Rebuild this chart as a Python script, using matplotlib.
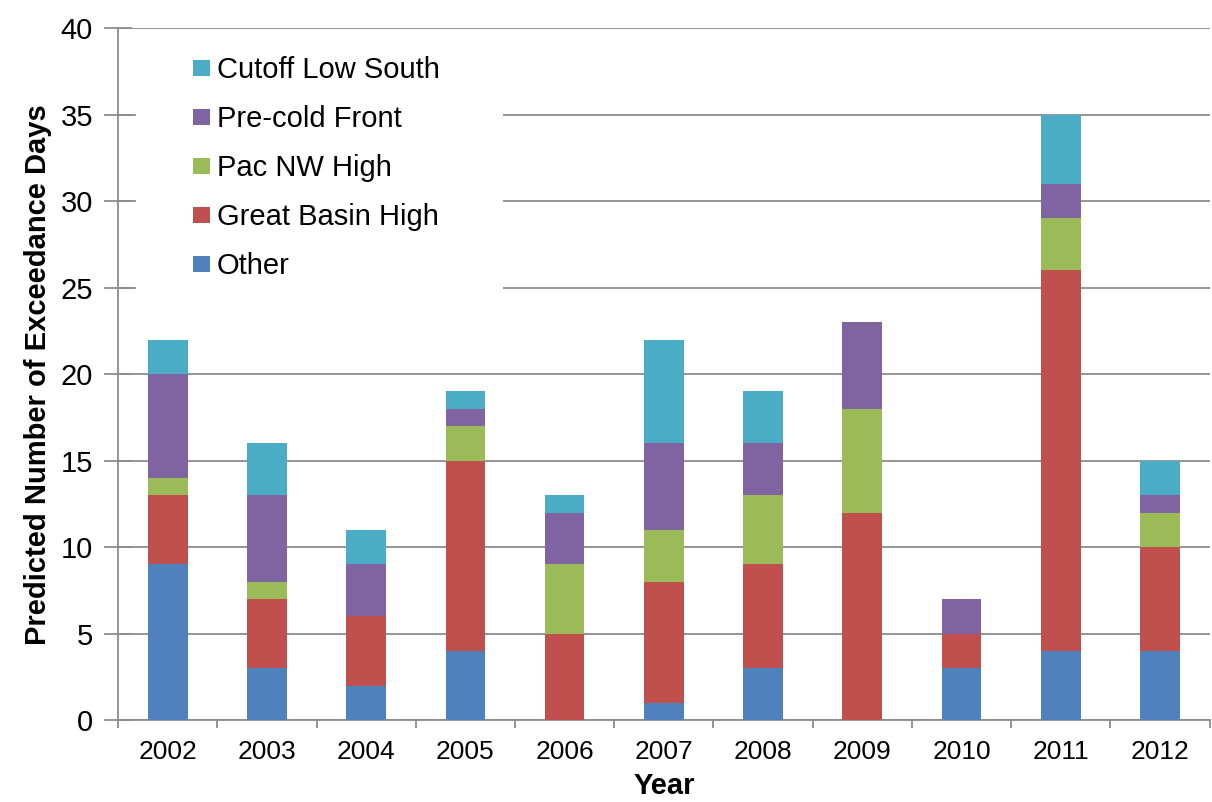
import numpy as np
import matplotlib
matplotlib.use("Agg")
import matplotlib.pyplot as plt
from matplotlib.patches import Rectangle
from matplotlib.ticker import MultipleLocator, FixedLocator

plt.rcParams["font.family"] = ["Liberation Sans", "DejaVu Sans"]

# === Data (days per weather pattern, stacked bottom -> top) ===
years = ["2002", "2003", "2004", "2005", "2006", "2007", "2008", "2009", "2010", "2011", "2012"]
other = [9, 3, 2, 4, 0, 1, 3, 0, 3, 4, 4]
great_basin = [4, 4, 4, 11, 5, 7, 6, 12, 2, 22, 6]
pac_nw = [1, 1, 0, 2, 4, 3, 4, 6, 0, 3, 2]
pre_cold = [6, 5, 3, 1, 3, 5, 3, 5, 2, 2, 1]
cutoff = [2, 3, 2, 1, 1, 6, 3, 0, 0, 4, 2]

series = [
    ("Other", other, "#4F81BD"),
    ("Great Basin High", great_basin, "#C0504D"),
    ("Pac NW High", pac_nw, "#9BBB59"),
    ("Pre-cold Front", pre_cold, "#8064A2"),
    ("Cutoff Low South", cutoff, "#4BACC6"),
]

# === Plot ===
fig = plt.figure(figsize=(12.12, 8.02), dpi=100)
ax = fig.add_axes([0.0974, 0.102, 0.9006, 0.863])

x = np.arange(len(years))
bottom = np.zeros(len(years))
handles = []
for name, vals, col in series:
    b = ax.bar(x, vals, width=0.4, bottom=bottom, color=col, label=name, zorder=3)
    handles.append(b)
    bottom += np.array(vals)

ax.set_xlim(-0.5, len(years) - 0.5)
ax.set_ylim(0, 40)
ax.yaxis.set_major_locator(MultipleLocator(5))
ax.grid(axis="y", color="#8C8C8C", linewidth=1.3, zorder=0)

ax.set_xticks(x)
ax.set_xticklabels(years, fontsize=19)
ax.xaxis.set_minor_locator(FixedLocator(np.arange(-0.5, len(years), 1.0)))
ax.tick_params(axis="x", which="major", length=0, pad=14)
ax.tick_params(axis="x", which="minor", length=6, width=1.3, color="#8C8C8C", direction="out")
ax.tick_params(axis="y", labelsize=21, length=20, width=1.3, color="#8C8C8C",
               direction="inout", pad=8)

for s in ["top", "right"]:
    ax.spines[s].set_visible(False)
for s in ["left", "bottom"]:
    ax.spines[s].set_color("#8C8C8C")
    ax.spines[s].set_linewidth(1.3)

ax.set_xlabel("Year", fontsize=21, fontweight="bold", labelpad=6)
ax.set_ylabel("Predicted Number of Exceedance Days", fontsize=21, fontweight="bold", labelpad=6)

# white legend area hiding the gridlines behind it
ax.add_patch(Rectangle((0.0165, 0.59), 0.336, 0.39, transform=ax.transAxes,
                       facecolor="white", edgecolor="none", zorder=2))

leg = ax.legend(handles[::-1], [s[0] for s in series][::-1], loc="upper left",
                bbox_to_anchor=(0.0687, 0.959), fontsize=21, frameon=False,
                handlelength=0.58, handleheight=0.5, handletextpad=0.24,
                labelspacing=0.72, borderpad=0, borderaxespad=0)
leg.set_zorder(5)

plt.savefig("out.png", dpi=100)
